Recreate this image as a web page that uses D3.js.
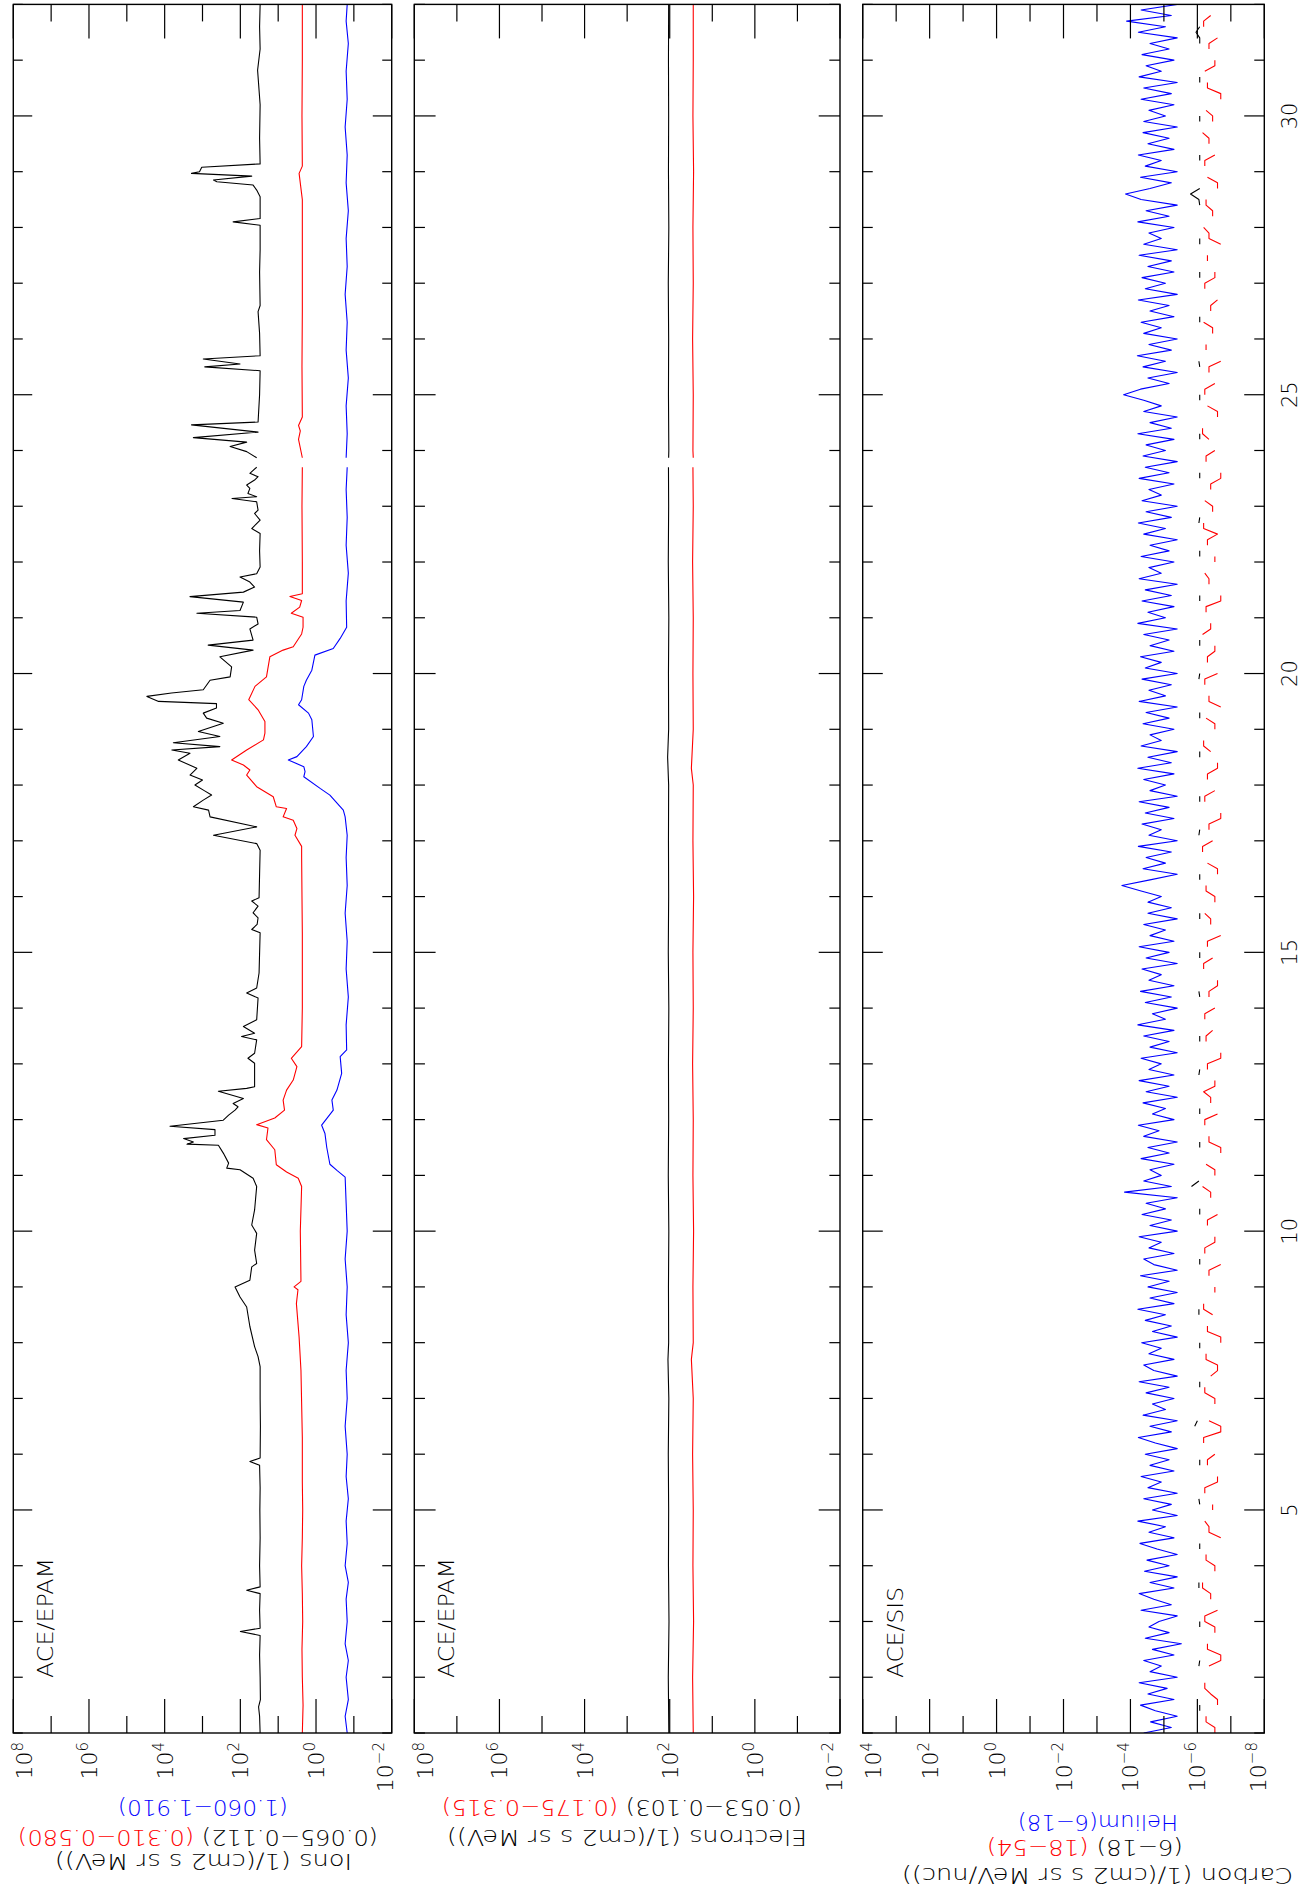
<!DOCTYPE html>
<meta charset="utf-8">
<style>
  body { margin: 0; background: #fff; }
  text { font-family: "DejaVu Sans", "Liberation Sans", Arial, sans-serif; font-weight: 200; }
</style>
<body>
<script src="https://d3js.org/d3.v7.min.js"></script>
<script>

// ---- data (day of month, flux) ----
var _ = null;

var ionLow = [[1.0,30],[1.3,31],[1.47,33],[1.6,29.5],[2.0,30],[2.4,31],[2.75,30],[2.82,100],[2.88,30],[3.2,31],[3.5,30],[3.56,68],[3.62,30],[4.0,31],[4.5,30],[5.0,30.5],[5.4,30],[5.8,31],[5.87,56],[5.93,30],[6.5,29.5],[7.0,30],[7.57,30],[7.75,34],[7.93,42],[8.29,56],[8.64,68],[8.82,102],[9.0,138],[9.12,56],[9.36,50],[9.42,37],[9.66,42],[9.96,37],[10.11,50],[10.38,42],[10.8,37],[10.95,46],[11.1,102],[11.13,229],[11.22,204],[11.4,282],[11.54,380],[11.56,2570],[11.6,1740],[11.66,3160],[11.72,468],[11.82,468],[11.88,7240],[11.99,282],[12.08,204],[12.17,138],[12.23,115],[12.29,155],[12.38,83],[12.51,380],[12.56,68],[12.59,42],[13.01,42],[13.1,63],[13.19,42],[13.43,37],[13.49,93],[13.55,42],[13.67,83],[13.79,37],[14.18,34],[14.27,68],[14.36,37],[14.63,32],[15.35,30],[15.41,50],[15.5,36],[15.62,34],[15.71,46],[15.83,34],[15.92,50],[15.98,32],[16.4,31],[16.83,30],[16.95,37],[17.1,513],[17.25,37],[17.43,631],[17.55,692],[17.61,1740],[17.73,955],[17.82,575],[17.9,900],[18.0,1585],[18.09,1000],[18.18,2140],[18.3,1410],[18.45,4365],[18.57,2140],[18.63,6460],[18.69,347],[18.76,5890],[18.87,347],[18.96,1290],[19.11,282],[19.2,776],[19.29,955],[19.38,427],[19.46,427],[19.5,14450],[19.59,29500],[19.65,6600],[19.71,955],[19.88,631],[19.94,186],[20.12,170],[20.3,347],[20.42,46],[20.51,708],[20.6,46],[20.8,56],[20.89,34],[21.01,37],[21.08,1410],[21.13,102],[21.28,83],[21.38,2140],[21.46,83],[21.55,42],[21.64,56],[21.73,102],[21.79,37],[21.91,30],[22.2,31],[22.51,30],[22.6,50],[22.75,30],[22.87,42],[22.93,34],[23.08,37],[23.14,166],[23.17,37],[23.23,63],[23.32,56],[23.38,68],[23.47,42],[23.53,34],[23.59,56],[23.7,37],[23.75,_],[23.87,37],[23.98,68],[24.07,186],[24.15,68],[24.23,1740],[24.33,34],[24.46,1950],[24.51,34],[25.0,31],[25.43,30],[25.5,871],[25.55,102],[25.64,955],[25.7,30],[26.1,31],[26.49,34],[26.6,30],[27.2,31],[27.6,30],[28.04,30],[28.1,155],[28.16,30],[28.55,30],[28.67,37],[28.76,46],[28.82,417],[28.85,513],[28.92,50],[28.97,1950],[29.0,1200],[29.08,1047],[29.14,30],[29.6,31],[30.2,30],[30.82,35],[31.2,30],[31.6,31],[32.0,30]];

var ionMid = [[1.0,2.3],[1.5,2.2],[2.0,2.3],[2.5,2.35],[3.0,2.25],[3.5,2.3],[4.0,2.4],[4.5,2.3],[5.0,2.25],[5.5,2.3],[6.3,2.3],[7.5,2.5],[8.1,2.8],[8.7,3.3],[8.95,3.0],[9.0,3.8],[9.1,2.5],[10.0,2.6],[10.8,2.4],[10.95,2.95],[11.06,6.0],[11.19,11.2],[11.46,12.3],[11.64,20.4],[11.85,18.6],[11.91,37],[12.03,12.3],[12.17,6.8],[12.35,7.4],[12.53,6.0],[12.71,4.0],[12.95,3.2],[13.1,4.5],[13.31,2.4],[14.0,2.3],[15.35,2.3],[16.0,2.35],[16.72,2.4],[16.9,2.4],[17.1,3.6],[17.22,3.2],[17.37,4.0],[17.43,7.4],[17.58,6.0],[17.61,11.2],[17.79,13.5],[17.97,37],[18.18,68],[18.27,56],[18.36,83],[18.45,170],[18.63,68],[18.81,24.5],[18.93,22.4],[19.14,22.4],[19.35,34],[19.53,60],[19.77,41],[19.94,20.4],[20.3,16.6],[20.42,7.4],[20.48,4.0],[20.71,2.4],[20.83,2.2],[21.01,2.2],[21.08,4.5],[21.19,2.7],[21.31,2.4],[21.38,4.9],[21.43,2.3],[22.0,2.3],[23.0,2.35],[23.7,2.3],[23.75,_],[23.87,2.3],[24.2,2.9],[24.35,2.6],[24.45,2.9],[24.6,2.3],[25.5,2.35],[26.5,2.3],[27.5,2.3],[28.5,2.3],[28.97,2.8],[29.1,2.3],[30.0,2.35],[31.0,2.3],[32.0,2.3]];

var ionHigh = [[1.0,0.15],[1.3,0.17],[1.6,0.14],[2.0,0.16],[2.3,0.14],[2.6,0.17],[3.0,0.15],[3.4,0.16],[3.7,0.14],[4.0,0.17],[4.4,0.15],[4.8,0.16],[5.2,0.14],[5.6,0.16],[6.0,0.15],[6.5,0.17],[7.0,0.15],[7.5,0.16],[8.0,0.14],[8.5,0.16],[9.0,0.15],[9.5,0.17],[10.0,0.15],[10.5,0.16],[10.97,0.17],[11.09,0.28],[11.2,0.43],[11.5,0.52],[11.75,0.58],[11.9,0.71],[12.17,0.35],[12.35,0.38],[12.53,0.28],[12.83,0.21],[13.13,0.23],[13.25,0.155],[13.7,0.16],[14.2,0.14],[14.7,0.16],[15.2,0.15],[15.7,0.17],[16.2,0.15],[16.7,0.16],[17.1,0.15],[17.43,0.17],[17.55,0.19],[17.82,0.43],[17.94,0.78],[18.15,2.1],[18.24,1.95],[18.33,2.1],[18.45,5.4],[18.51,3.2],[18.69,1.8],[18.87,1.17],[19.17,1.29],[19.29,1.58],[19.44,2.9],[19.53,2.4],[19.77,2.1],[19.88,1.8],[20.06,1.29],[20.33,1.07],[20.45,0.35],[20.63,0.23],[20.83,0.155],[21.3,0.16],[21.8,0.14],[22.3,0.16],[22.8,0.15],[23.3,0.16],[23.7,0.15],[23.75,_],[23.87,0.16],[24.3,0.15],[24.8,0.16],[25.3,0.14],[25.8,0.16],[26.3,0.15],[26.8,0.17],[27.3,0.15],[27.8,0.16],[28.3,0.14],[28.8,0.16],[29.3,0.15],[29.8,0.17],[30.3,0.15],[30.8,0.16],[31.3,0.14],[31.7,0.16],[32.0,0.15]];

var elecLow = [[1,105],[2,108],[3,104],[4,107],[5,106],[6,108],[7,105],[7.7,110],[8,106],[9,107],[10,105],[11,108],[12,106],[13,107],[14,105],[15,108],[16,106],[17,107],[18,106],[18.5,112],[19,106],[20,107],[21,105],[22,108],[23,106],[23.7,107],[23.75,_],[23.87,106],[24,105],[25,107],[26,106],[27,108],[28,105],[29,107],[30,106],[31,107],[32,106]];
var elecHigh = [[1,28],[2,29],[3,27.5],[4,28.5],[5,28],[6,29],[7,28],[7.7,31],[8,28],[9,28.5],[10,27.5],[11,28.5],[12,28],[13,29],[14,28],[15,28.5],[16,27.5],[17,28.5],[18,28],[18.3,31],[19,28],[20,28.5],[21,28],[22,29],[23,28],[23.7,28.5],[23.75,_],[23.87,28],[24,28.5],[25,28],[26,29],[27,28],[28,28.5],[29,27.5],[30,28.5],[31,28],[32,28]];

// ACE/SIS, one value per 0.1 day from day 1.0, in units of 1e-6
var sisStart = 1.0, sisStep = 0.1, sisUnit = 1e-6;

var helium = [40,6,25,4,18,50,5,30,8,55, 4,26,12,40,5,22,3,36,7,28, 14,4,48,6,20,55,5,26,4,38, 7,32,4,16,52,5,28,9,60,4,
  22,6,40,4,30,12,48,5,26,7, 36,4,18,58,6,26,4,42,9,22, 5,34,7,55,4,20,40,5,28,12, 46,4,22,6,36,9,60,5,26,4,
  30,7,50,4,20,40,5,28,12,55, 4,26,6,45,9,34,4,150,6,40, 12,26,5,48,7,30,4,40,14,58, 5,22,9,42,4,34,7,55,5,28,
  12,48,4,26,7,40,5,60,9,22, 4,36,6,50,5,28,12,45,4,34, 7,55,5,26,9,40,4,30,6,30, 12,48,180,26,4,42,9,34,6,58,
  4,28,12,45,5,36,7,55,4,26, 9,40,5,60,6,30,4,48,12,26, 5,42,7,34,4,55,9,28,6,45, 4,36,12,50,5,26,7,40,4,60,
  9,30,5,45,6,36,4,55,12,28, 5,48,7,26,4,40,9,58,6,34, 4,45,12,28,5,55,7,36,4,42, 9,34,5,60,6,26,4,40,12,40,
  160,50,7,30,4,42,9,62,6,28, 4,40,12,48,5,26,7,58,4,36, 9,45,5,30,6,55,4,40,12,28, 5,60,7,34,4,48,140,26,6,50,
  4,36,12,58,5,30,7,42,4,40, 9,28,5,48,6,40,4,55,12,34, 5,45,7,26,4,58,9,130,6,48, 4];

var carbonLow = [_,_,_,_,0.85,0.85,_,_,_,_, _,_,0.9,0.85,_,_,_,_,_,0.85, 0.85,_,_,_,_,_,0.9,0.9,_,_, _,_,_,0.85,0.85,_,_,_,_,_,
  _,0.85,0.9,_,_,_,_,_,0.85,0.85, _,_,_,_,_,1.2,1.0,_,_,_, _,_,0.85,0.85,_,_,_,_,_,0.85, 0.85,_,_,_,_,0.9,0.9,_,_,_,
  _,_,_,_,0.85,0.85,_,_,_,_, _,_,_,0.85,0.85,_,_,_,1.5,0.9, _,_,_,_,_,0.85,0.85,_,_,_, _,0.85,0.85,_,_,_,_,_,0.9,0.85,
  _,_,_,_,0.85,0.85,_,_,_,_, _,_,0.85,0.9,_,_,_,_,_,0.85, 0.85,_,_,_,_,_,0.85,0.85,_,_, _,_,_,0.85,0.85,_,_,_,_,_,
  _,0.9,0.85,_,_,_,_,0.85,0.85,_, _,_,_,_,_,0.85,0.85,_,_,_, _,_,0.85,0.85,_,_,_,_,_,0.9, 0.85,_,_,_,_,0.85,0.85,_,_,_,
  _,_,_,0.85,0.85,_,_,_,_,_, _,0.85,0.85,_,_,_,_,0.9,0.85,_, _,_,_,_,_,0.85,0.85,_,_,_, _,_,0.85,0.85,_,_,_,_,_,0.85,
  0.85,_,_,_,_,0.85,0.9,_,_,_, _,_,_,0.85,0.85,_,_,_,_,_, _,0.85,0.85,_,_,_,_,0.85,0.85,_, _,_,_,_,0.85,0.9,1.6,0.85,_,_,
  _,_,0.85,0.85,_,_,_,_,_,0.85, 0.85,_,_,_,_,_,0.85,0.85,_,_, _,_,_,0.85,0.85,1.1,0.85,_,_,_, _];

var carbonHigh = [0.3,0.3,0.55,0.55,_,0.25,0.25,0.4,0.6,0.6, _,_,0.45,0.2,0.2,0.5,0.5,_,0.3,0.3, 0.6,0.6,0.25,_,0.4,0.4,0.7,0.7,_,0.3, 0.3,0.55,0.55,_,_,0.2,0.45,0.45,0.6,_,
  0.35,0.35,_,0.6,0.6,0.25,0.25,_,0.5,0.5, 0.3,_,0.65,0.65,0.2,0.2,0.45,_,_,0.3, 0.3,0.6,0.6,_,0.4,0.25,0.25,0.55,0.55,_, 0.2,0.2,0.5,0.5,_,0.35,0.65,0.65,_,0.3,
  0.3,_,0.45,0.45,0.2,_,0.6,0.6,0.3,0.3, _,0.5,0.5,0.25,_,_,0.4,0.4,0.7,_, 0.3,0.3,0.55,_,0.2,0.2,0.45,0.45,_,0.6, 0.6,0.25,_,0.4,0.4,0.65,0.3,0.3,_,0.5,
  0.5,0.2,0.2,_,0.55,0.55,0.35,_,0.6,0.6, 0.3,_,0.45,0.45,0.25,0.25,_,0.65,0.65,0.35, _,0.5,0.5,0.2,_,0.4,0.4,0.6,_,0.3, 0.3,0.55,0.55,_,0.25,0.25,0.5,_,0.7,0.7,
  0.35,_,0.45,0.45,0.2,0.2,_,0.6,0.6,0.3, _,0.5,0.5,0.25,0.25,_,0.4,0.65,0.65,_, 0.3,0.3,0.55,_,0.2,0.45,0.45,_,0.6,0.6, 0.25,_,0.5,0.5,0.3,0.3,_,0.7,0.4,0.4,
  _,0.55,0.55,0.2,0.2,_,0.45,0.45,0.6,_, 0.3,0.3,_,0.5,0.5,0.25,0.65,0.65,_,0.35, 0.35,0.6,_,0.4,0.4,0.2,0.2,_,0.55,0.55, 0.3,_,0.45,0.7,0.7,_,0.25,0.25,0.5,_,
  0.6,0.6,0.3,_,0.45,0.45,0.2,_,0.55,0.55, _,0.35,0.35,0.65,_,0.4,0.4,0.25,_,0.6, 0.6,0.3,0.3,_,0.5,0.5,_,0.2,0.45,0.45, 0.65,_,0.35,0.35,0.55,0.55,_,0.25,0.25,0.5,
  _,0.6,0.6,0.3,_,0.45,0.45,0.7,_,0.35, 0.35,0.55,_,0.2,0.2,0.5,0.5,_,0.6,0.3, 0.3,_,0.45,0.45,0.25,_,0.65,0.65,0.4,_, 0.4];

var dayTicks = d3.range(1, 33);

function gridSeries(arr) {
  return arr.map(function(v, i) { return [sisStart + i * sisStep, v == null ? null : v * sisUnit]; });
}

// ---- layout: the plot is drawn landscape, then turned a quarter to the left ----
var pageW = 1315, pageH = 1898;

var svg = d3.select("body").append("svg")
    .attr("width", pageW)
    .attr("height", pageH);

var g = svg.append("g")
    .attr("transform", "translate(0," + pageH + ") rotate(-90)");

var x = d3.scaleLinear()
    .domain([1, 32])
    .range([165, 1893.6]);

var panels = [
  { top: 13.3, bottom: 391.7, domain: [1e-2, 1e8], tag: "ACE/EPAM",
    series: [[ionLow, "#000"], [ionMid, "#f00"], [ionHigh, "#00f"]],
    titles: [
      { at: 43.7, mid: 203.5, w: 297, parts: [["Ions (1/(cm2 s sr MeV))", "#000"]] },
      { at: 68, mid: 198, w: 360, parts: [["(0.065\u22120.112)", "#000"], [" (0.310\u22120.580)", "#f00"]] },
      { at: 98, mid: 203, w: 170, parts: [["(1.060\u22121.910)", "#00f"]] }] },
  { top: 414.3, bottom: 840, domain: [1e-2, 1e8], tag: "ACE/EPAM",
    series: [[elecLow, "#000"], [elecHigh, "#f00"]],
    titles: [
      { at: 68, mid: 627, w: 360, parts: [["Electrons (1/(cm2 s sr MeV))", "#000"]] },
      { at: 98, mid: 622, w: 360, parts: [["(0.053\u22120.103)", "#000"], [" (0.175\u22120.315)", "#f00"]] }] },
  { top: 862.7, bottom: 1264.3, domain: [1e-8, 1e4], tag: "ACE/SIS", axis: true,
    series: [[gridSeries(helium), "#00f"], [gridSeries(carbonHigh), "#f00"], [gridSeries(carbonLow), "#000"]],
    titles: [
      { at: 30, mid: 1097.5, w: 391, parts: [["Carbon (1/(cm2 s sr MeV/nuc))", "#000"]] },
      { at: 58, mid: 1085, w: 196, parts: [["(6\u221218)", "#000"], [" (18\u221254)", "#f00"]] },
      { at: 83, mid: 1098, w: 160, parts: [["Helium(6\u221218)", "#00f"]] }] }
];

var x0 = x.range()[0], x1 = x.range()[1];

panels.forEach(function(p, pi) {
  var y = d3.scaleLog().domain(p.domain).range([p.bottom, p.top]);
  var h = p.bottom - p.top;

  g.append("clipPath").attr("id", "clip" + pi)
    .append("rect").attr("x", x0).attr("y", p.top).attr("width", x1 - x0).attr("height", h);

  var line = d3.line()
      .defined(function(d) { return d[1] != null; })
      .x(function(d) { return x(d[0]); })
      .y(function(d) { return y(d[1]); });

  p.series.forEach(function(s) {
    g.append("path")
      .attr("clip-path", "url(#clip" + pi + ")")
      .attr("d", line(s[0]))
      .attr("fill", "none")
      .attr("stroke", s[1])
      .attr("stroke-width", 1.1)
      .attr("stroke-linejoin", "round");
  });

  // frame
  g.append("rect")
    .attr("x", x0).attr("y", p.top).attr("width", x1 - x0).attr("height", h)
    .attr("fill", "none").attr("stroke", "#000").attr("stroke-width", 1.4);

  // time ticks, top and bottom of the panel
  dayTicks.forEach(function(d) {
    var len = d % 5 === 0 ? h * 0.05 : h * 0.025;
    [[p.top, len], [p.bottom, -len]].forEach(function(e) {
      g.append("line")
        .attr("x1", x(d)).attr("x2", x(d))
        .attr("y1", e[0]).attr("y2", e[0] + e[1])
        .attr("stroke", "#000").attr("stroke-width", 1.2);
    });
  });

  // decade ticks, left and right
  var e0 = Math.round(Math.log10(p.domain[0])), e1 = Math.round(Math.log10(p.domain[1]));
  d3.range(e0, e1 + 1).forEach(function(e) {
    var yy = y(Math.pow(10, e)), major = (e % 2 === 0);
    var len = major ? 34 : 17;
    [[x0, len], [x1, -len]].forEach(function(s) {
      g.append("line")
        .attr("x1", s[0]).attr("x2", s[0] + s[1])
        .attr("y1", yy).attr("y2", yy)
        .attr("stroke", "#000").attr("stroke-width", 1.2);
    });
    if (!major) return;
    var base = Math.max(p.top + 18.5, Math.min(p.bottom + 1.5, yy + 8));
    var t = g.append("text")
      .attr("x", 156).attr("y", base)
      .attr("text-anchor", "end")
      .attr("font-size", 22);
    t.append("tspan").text("10");
    t.append("tspan").attr("dy", -9).attr("font-size", 15)
      .text(e < 0 ? "\u2212" + (-e) : String(e));
  });

  // instrument tag
  g.append("text")
    .attr("x", 220).attr("y", p.top + 40)
    .attr("font-size", 21)
    .attr("textLength", p.tag.length > 7 ? 120 : 91)
    .attr("lengthAdjust", "spacingAndGlyphs")
    .text(p.tag);

  // axis titles
  p.titles.forEach(function(tl) {
    var t = g.append("text")
      .attr("transform", "translate(" + tl.at + "," + tl.mid + ") rotate(-90)")
      .attr("text-anchor", "middle")
      .attr("font-size", 21)
      .attr("textLength", tl.w)
      .attr("lengthAdjust", "spacingAndGlyphs");
    tl.parts.forEach(function(part) {
      t.append("tspan").attr("fill", part[1]).text(part[0]);
    });
  });

  if (p.axis) {
    dayTicks.filter(function(d) { return d % 5 === 0; }).forEach(function(d) {
      g.append("text")
        .attr("x", x(d)).attr("y", p.bottom + 33)
        .attr("text-anchor", "middle")
        .attr("font-size", 21)
        .text(d);
    });
  }
});

</script>
</body>
</html>
